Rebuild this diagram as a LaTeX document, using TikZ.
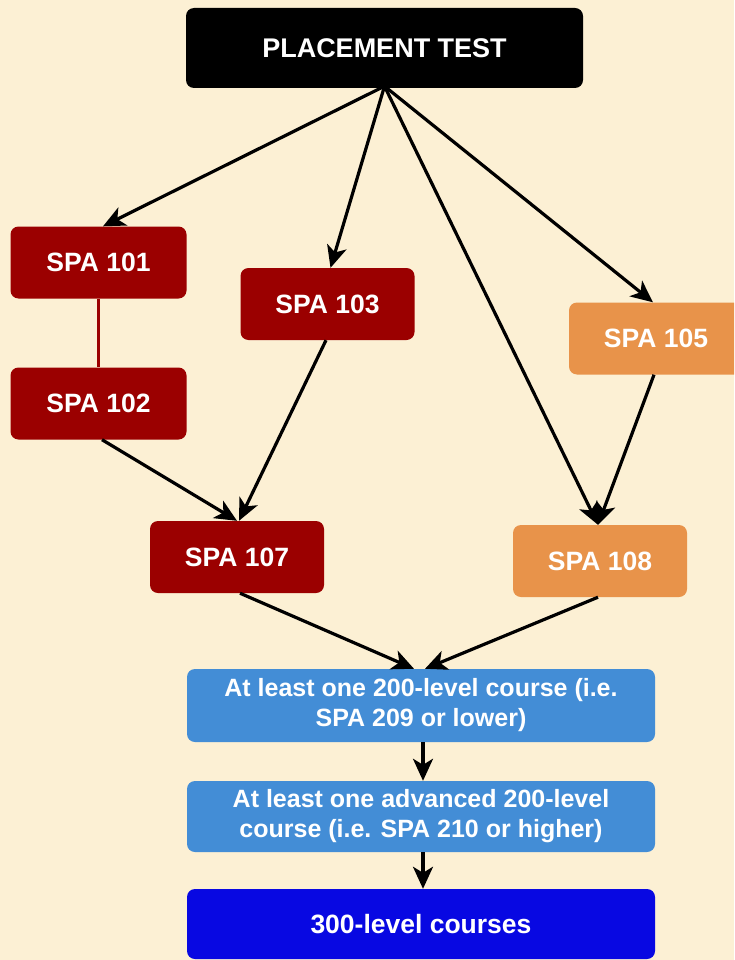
\documentclass[tikz,border=0pt]{standalone}
\usepackage{fontspec}
\setmainfont{Liberation Sans}
\usetikzlibrary{arrows.meta}
\definecolor{bgcream}{HTML}{FCF0D4}
\definecolor{darkred}{HTML}{9B0000}
\definecolor{orangebox}{HTML}{E8934A}
\definecolor{lightblue}{HTML}{438DD6}
\definecolor{deepblue}{HTML}{0808E2}
\tikzset{
  box/.style={rectangle, rounded corners=8pt, inner sep=0pt, text=white,
    font=\bfseries\fontsize{26.5}{30}\selectfont, align=center},
  redbox/.style={box, fill=darkred, minimum width=176pt, minimum height=72pt},
  orbox/.style={box, fill=orangebox, minimum width=174pt, minimum height=72pt},
  bluebox/.style={box, fill=lightblue, minimum width=468pt, minimum height=72pt,
    font=\bfseries\fontsize{25}{30}\selectfont},
  arr/.style={-{Stealth[length=22pt 0,width=20pt 0,inset=6pt 0]}, line width=3.2pt, black},
}
\begin{document}
\begin{tikzpicture}[x=1pt,y=-1pt]
\clip (0,0) rectangle (734,960);
\fill[bgcream] (0,0) rectangle (734,960);

\node[box, fill=black, minimum width=397pt, minimum height=80pt,
  font=\bfseries\fontsize{27}{30}\selectfont] (pt) at (384.5,48) {PLACEMENT TEST};
\node[redbox] (s101) at (98.5,262.5) {SPA 101};
\node[redbox] (s102) at (98.5,403.5) {SPA 102};
\node[redbox, minimum width=174pt] (s103) at (327.5,304) {SPA 103};
\node[orbox] (s105) at (656,338.5) {SPA 105};
\node[redbox, minimum width=174pt] (s107) at (237,557) {SPA 107};
\node[orbox] (s108) at (600,561) {SPA 108};
\node[bluebox, minimum height=73pt] (b1) at (421,705.5) {At least one 200-level course (i.e.\\SPA 209 or lower)};
\node[bluebox, minimum height=71pt] (b2) at (421,816.5) {At least one advanced 200-level\\course (i.e. SPA 210 or higher)};
\node[box, fill=deepblue, minimum width=468pt, minimum height=70pt] (b3) at (421,924) {300-level courses};

\coordinate (ptout) at ([yshift=2pt]pt.south);
\draw[arr] (ptout) -- ([xshift=4.5pt]s101.north);
\draw[arr] (ptout) -- ([xshift=3pt]s103.north);
\draw[arr] (ptout) -- ([xshift=-2pt]s108.north);
\draw[arr] (ptout) -- ([xshift=-3pt]s105.north);
\draw[darkred, line width=2.5pt] (s101.south) -- (s102.north);
\draw[arr] ([xshift=3.5pt]s102.south) -- (s107.north);
\draw[arr] ([xshift=-1.5pt]s103.south) -- ([xshift=2pt]s107.north);
\draw[arr] ([xshift=-2pt]s105.south) -- ([xshift=-2pt]s108.north);
\draw[arr] ([xshift=3pt]s107.south) -- ([xshift=-7pt]b1.north);
\draw[arr] ([xshift=-2pt]s108.south) -- ([xshift=4pt]b1.north);
\draw[arr] ([xshift=2pt]b1.south) -- ([xshift=2pt]b2.north);
\draw[arr] ([xshift=2pt]b2.south) -- ([xshift=2pt]b3.north);
\end{tikzpicture}
\end{document}
